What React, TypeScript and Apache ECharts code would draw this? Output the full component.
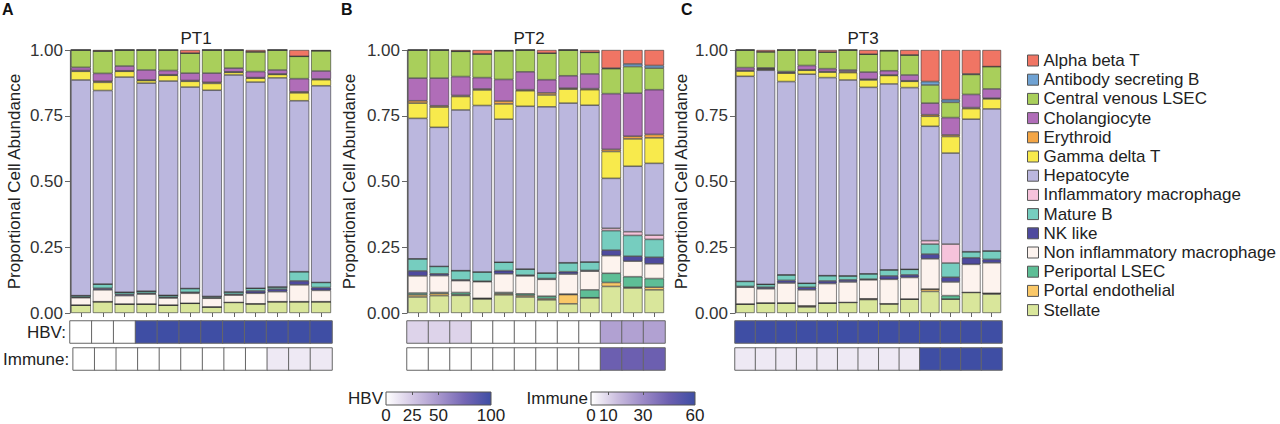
import React, { useEffect, useRef } from "react";
import * as echarts from "echarts";

// ---------- categories ----------
const CELL_TYPES = [
  "Alpha beta T",
  "Antibody secreting B",
  "Central venous LSEC",
  "Cholangiocyte",
  "Erythroid",
  "Gamma delta T",
  "Hepatocyte",
  "Inflammatory macrophage",
  "Mature B",
  "NK like",
  "Non inflammatory macrophage",
  "Periportal LSEC",
  "Portal endothelial",
  "Stellate",
];
const CELL_COLORS = [
  "#F07564", "#6FA2D3", "#A9CF5B", "#B06DB8", "#F3A545", "#F8EA4C", "#BBB7DE",
  "#F6C3DB", "#76CDBF", "#4E4A9E", "#FDF3EE", "#5EBE96", "#FAC868", "#D9E69B",
];
const PANEL_TITLES = ["PT1", "PT2", "PT3"];
const PANEL_LETTERS = ["A", "B", "C"];
const HBV_TICKS = [0, 25, 50, 100];
const IMMUNE_TICKS = [0, 10, 30, 60];

// ---------- PT1 (12 samples) ----------
const PT1_ALPHA_BETA_T = [0, 0.004, 0, 0, 0, 0.012, 0, 0, 0.007, 0, 0.024, 0.003];
const PT1_ANTIBODY_B = [0, 0, 0, 0, 0, 0, 0, 0, 0, 0, 0, 0];
const PT1_CV_LSEC = [0.066, 0.085, 0.061, 0.076, 0.078, 0.076, 0.088, 0.069, 0.075, 0.076, 0.085, 0.077];
const PT1_CHOLANGIOCYTE = [0.012, 0.03, 0.018, 0.038, 0.016, 0.028, 0.035, 0.014, 0.023, 0.015, 0.05, 0.03];
const PT1_ERYTHROID = [0.003, 0.004, 0.002, 0.002, 0.002, 0.003, 0.004, 0.002, 0.002, 0.002, 0.004, 0.003];
const PT1_GAMMA_DELTA_T = [0.033, 0.031, 0.022, 0.01, 0.022, 0.022, 0.026, 0.01, 0.015, 0.013, 0.03, 0.023];
const PT1_HEPATOCYTE = [0.82, 0.736, 0.818, 0.791, 0.815, 0.766, 0.784, 0.825, 0.784, 0.795, 0.65, 0.748];
const PT1_INFL_MAC = [0, 0, 0, 0, 0, 0, 0, 0, 0, 0, 0, 0];
const PT1_MATURE_B = [0.006, 0.016, 0.008, 0.008, 0.007, 0.014, 0.005, 0.009, 0.01, 0.008, 0.035, 0.019];
const PT1_NK_LIKE = [0.002, 0.006, 0.005, 0.003, 0.003, 0.004, 0.002, 0.003, 0.009, 0.01, 0.015, 0.011];
const PT1_NON_INFL_MAC = [0.028, 0.045, 0.032, 0.038, 0.027, 0.038, 0.033, 0.028, 0.04, 0.038, 0.064, 0.043];
const PT1_PERIPORTAL = [0, 0, 0, 0, 0, 0, 0, 0, 0, 0, 0, 0];
const PT1_PORTAL = [0, 0, 0, 0, 0, 0, 0, 0, 0, 0, 0, 0];
const PT1_STELLATE = [0.03, 0.043, 0.034, 0.034, 0.03, 0.037, 0.023, 0.04, 0.035, 0.043, 0.043, 0.043];
const PT1_HBV = [0, 0, 0, 100, 100, 100, 100, 100, 100, 100, 100, 100];
const PT1_IMMUNE = [0, 0, 0, 0, 0, 0, 0, 0, 0, 5, 5, 5];

// ---------- PT2 (12 samples) ----------
const PT2_ALPHA_BETA_T = [0, 0, 0.005, 0.015, 0.003, 0, 0.012, 0, 0.009, 0.069, 0.053, 0.059];
const PT2_ANTIBODY_B = [0, 0, 0, 0, 0, 0, 0, 0, 0, 0.002, 0.01, 0.01];
const PT2_CV_LSEC = [0.107, 0.107, 0.096, 0.09, 0.109, 0.083, 0.101, 0.098, 0.082, 0.095, 0.101, 0.082];
const PT2_CHOLANGIOCYTE = [0.086, 0.105, 0.072, 0.043, 0.082, 0.068, 0.05, 0.047, 0.056, 0.212, 0.164, 0.17];
const PT2_ERYTHROID = [0.009, 0.005, 0.004, 0.004, 0.011, 0.004, 0.008, 0.004, 0.004, 0.008, 0.01, 0.013];
const PT2_GAMMA_DELTA_T = [0.058, 0.077, 0.051, 0.059, 0.058, 0.059, 0.045, 0.053, 0.059, 0.102, 0.104, 0.097];
const PT2_HEPATOCYTE = [0.534, 0.529, 0.611, 0.633, 0.544, 0.619, 0.632, 0.607, 0.596, 0.19, 0.249, 0.273];
const PT2_INFL_MAC = [0, 0, 0, 0, 0, 0, 0, 0, 0, 0.009, 0.014, 0.016];
const PT2_MATURE_B = [0.046, 0.028, 0.035, 0.035, 0.032, 0.023, 0.021, 0.034, 0.032, 0.074, 0.079, 0.068];
const PT2_NK_LIKE = [0.019, 0.007, 0.003, 0.002, 0.012, 0.003, 0.003, 0.009, 0.003, 0.021, 0.019, 0.025];
const PT2_NON_INFL_MAC = [0.065, 0.064, 0.045, 0.063, 0.071, 0.068, 0.064, 0.076, 0.071, 0.067, 0.059, 0.056];
const PT2_PERIPORTAL = [0.007, 0.004, 0.008, 0.002, 0.004, 0.006, 0.009, 0.002, 0.03, 0.035, 0.04, 0.033];
const PT2_PORTAL = [0.008, 0.008, 0.003, 0, 0.005, 0.006, 0.005, 0.035, 0, 0.015, 0.003, 0.01];
const PT2_STELLATE = [0.061, 0.066, 0.067, 0.054, 0.069, 0.061, 0.05, 0.035, 0.058, 0.101, 0.095, 0.088];
const PT2_HBV = [20, 20, 20, 0, 0, 0, 0, 0, 0, 45, 45, 45];
const PT2_IMMUNE = [0, 0, 0, 0, 0, 0, 0, 0, 0, 45, 45, 45];

// ---------- PT3 (13 samples) ----------
const PT3_ALPHA_BETA_T = [0, 0.007, 0, 0, 0.008, 0, 0.016, 0.003, 0.019, 0.12, 0.189, 0.091, 0.063];
const PT3_ANTIBODY_B = [0, 0, 0, 0, 0, 0, 0, 0, 0, 0.013, 0.01, 0.002, 0];
const PT3_CV_LSEC = [0.067, 0.061, 0.082, 0.059, 0.063, 0.076, 0.068, 0.076, 0.076, 0.069, 0.058, 0.076, 0.085];
const PT3_CHOLANGIOCYTE = [0.011, 0.003, 0.004, 0.016, 0.011, 0.006, 0.027, 0.016, 0.022, 0.044, 0.066, 0.05, 0.035];
const PT3_ERYTHROID = [0.002, 0.002, 0.002, 0.002, 0.002, 0.004, 0.003, 0.002, 0.002, 0.006, 0.006, 0.004, 0.003];
const PT3_GAMMA_DELTA_T = [0.02, 0.004, 0.032, 0.015, 0.021, 0.028, 0.028, 0.032, 0.024, 0.038, 0.063, 0.04, 0.038];
const PT3_HEPATOCYTE = [0.78, 0.814, 0.735, 0.795, 0.753, 0.745, 0.709, 0.707, 0.691, 0.435, 0.346, 0.504, 0.54];
const PT3_INFL_MAC = [0, 0, 0, 0, 0, 0, 0, 0, 0, 0.013, 0.072, 0, 0];
const PT3_MATURE_B = [0.019, 0.011, 0.021, 0.015, 0.02, 0.015, 0.02, 0.023, 0.021, 0.038, 0.054, 0.023, 0.032];
const PT3_NK_LIKE = [0.003, 0.006, 0.01, 0.01, 0.01, 0.008, 0.003, 0.013, 0.01, 0.018, 0.018, 0.025, 0.013];
const PT3_NON_INFL_MAC = [0.064, 0.054, 0.076, 0.061, 0.074, 0.078, 0.072, 0.093, 0.082, 0.115, 0.052, 0.107, 0.116];
const PT3_PERIPORTAL = [0, 0, 0, 0, 0, 0, 0, 0, 0, 0, 0.013, 0, 0];
const PT3_PORTAL = [0, 0, 0, 0.004, 0, 0, 0.003, 0, 0, 0.009, 0, 0, 0.003];
const PT3_STELLATE = [0.034, 0.038, 0.038, 0.023, 0.038, 0.04, 0.051, 0.035, 0.053, 0.082, 0.053, 0.078, 0.072];
const PT3_HBV = [100, 100, 100, 100, 100, 100, 100, 100, 100, 100, 100, 100, 100];
const PT3_IMMUNE = [5, 5, 5, 5, 5, 5, 5, 5, 5, 60, 60, 60, 60];

// tables for the library (in CELL_TYPES order)
const PANEL_VALUES: number[][][] = [
  [PT1_ALPHA_BETA_T, PT1_ANTIBODY_B, PT1_CV_LSEC, PT1_CHOLANGIOCYTE, PT1_ERYTHROID, PT1_GAMMA_DELTA_T, PT1_HEPATOCYTE,
    PT1_INFL_MAC, PT1_MATURE_B, PT1_NK_LIKE, PT1_NON_INFL_MAC, PT1_PERIPORTAL, PT1_PORTAL, PT1_STELLATE],
  [PT2_ALPHA_BETA_T, PT2_ANTIBODY_B, PT2_CV_LSEC, PT2_CHOLANGIOCYTE, PT2_ERYTHROID, PT2_GAMMA_DELTA_T, PT2_HEPATOCYTE,
    PT2_INFL_MAC, PT2_MATURE_B, PT2_NK_LIKE, PT2_NON_INFL_MAC, PT2_PERIPORTAL, PT2_PORTAL, PT2_STELLATE],
  [PT3_ALPHA_BETA_T, PT3_ANTIBODY_B, PT3_CV_LSEC, PT3_CHOLANGIOCYTE, PT3_ERYTHROID, PT3_GAMMA_DELTA_T, PT3_HEPATOCYTE,
    PT3_INFL_MAC, PT3_MATURE_B, PT3_NK_LIKE, PT3_NON_INFL_MAC, PT3_PERIPORTAL, PT3_PORTAL, PT3_STELLATE],
];
const PANEL_HBV = [PT1_HBV, PT2_HBV, PT3_HBV];
const PANEL_IMMUNE = [PT1_IMMUNE, PT2_IMMUNE, PT3_IMMUNE];

// ---------- styles / layout ----------
const FONT = "'Liberation Sans', Arial, Helvetica, sans-serif";
const TEXT = "#222";
const AXIS = "#666";
const HBV_RAMP = ["#ffffff", "#d4c8e5", "#a897cd", "#7466b5", "#3f4ea4"];
const IMMUNE_RAMP = ["#ffffff", "#cbbedf", "#9c8ac7", "#6c5fb0", "#3f4ea4"];
const PANEL_BOX = [
  { left: 70, width: 262, title: 196, letter: 2, nameGap: 47 },
  { left: 407, width: 258, title: 529, letter: 341, nameGap: 49 },
  { left: 735, width: 267, title: 863, letter: 681, nameGap: 45 },
];
const BAR_TOP = 50;
const BAR_H = 263;
const HBV_TOP = 321;
const IMM_TOP = 348;
const ROW_H = 22;

function ramp(colors: string[]) {
  return new echarts.graphic.LinearGradient(
    0, 0, 1, 0,
    colors.map((c, i) => ({ offset: i / (colors.length - 1), color: c }))
  );
}

function buildOption() {
  const grid: any[] = [];
  const xAxis: any[] = [];
  const yAxis: any[] = [];
  const series: any[] = [];
  const graphic: any[] = [];

  // bar grids 0..2
  PANEL_BOX.forEach((b, p) => {
    const n = PANEL_VALUES[p][0].length;
    const cats = Array.from({ length: n }, (_, i) => String(i + 1));
    grid.push({ left: b.left, top: BAR_TOP, width: b.width, height: BAR_H });
    xAxis.push({
      type: "category", gridIndex: p, data: cats,
      axisLine: { show: false },
      axisTick: { show: true, alignWithLabel: true, length: 4, lineStyle: { color: AXIS } },
      axisLabel: { show: false },
    });
    yAxis.push({
      type: "value", gridIndex: p, min: 0, max: 1, interval: 0.25,
      name: "Proportional Cell Abundance", nameLocation: "middle", nameGap: b.nameGap,
      nameTextStyle: { fontSize: 17, color: TEXT, fontFamily: FONT },
      axisLine: { show: true, lineStyle: { color: AXIS, width: 1.2 } },
      axisTick: { show: true, length: 5, lineStyle: { color: AXIS } },
      axisLabel: { fontSize: 17, color: "#333", margin: 7, fontFamily: FONT, formatter: (v: number) => v.toFixed(2) },
      splitLine: { show: false },
    });
  });
  // heatmap grids 3..5 (HBV) and 6..8 (Immune)
  [HBV_TOP, IMM_TOP].forEach((top, r) => {
    PANEL_BOX.forEach((b, p) => {
      const gi = 3 + r * 3 + p;
      const n = PANEL_VALUES[p][0].length;
      grid.push({ left: b.left, top, width: b.width, height: ROW_H });
      xAxis.push({
        type: "category", gridIndex: gi, data: Array.from({ length: n }, (_, i) => String(i + 1)),
        axisLine: { show: false }, axisTick: { show: false }, axisLabel: { show: false },
      });
      yAxis.push({
        type: "category", gridIndex: gi, data: [r === 0 ? "HBV:" : "Immune:"],
        axisLine: { show: false }, axisTick: { show: false },
        axisLabel: { show: p === 0, fontSize: 17, color: TEXT, margin: 4, fontFamily: FONT },
      });
    });
  });
  // colorbar grids 9 (HBV) and 10 (Immune)
  const bars = [
    { left: 386, width: 105, max: 100, ticks: HBV_TICKS, name: "HBV", colors: HBV_RAMP },
    { left: 591, width: 104, max: 60, ticks: IMMUNE_TICKS, name: "Immune", colors: IMMUNE_RAMP },
  ];
  bars.forEach((cb, k) => {
    const gi = 9 + k;
    grid.push({
      left: cb.left, top: 392, width: cb.width, height: 14, show: true,
      backgroundColor: ramp(cb.colors), borderColor: "#555", borderWidth: 1,
    });
    xAxis.push({
      type: "value", gridIndex: gi, min: 0, max: cb.max, position: "bottom",
      axisLine: { show: false }, axisTick: { show: false }, splitLine: { show: false },
      axisLabel: { customValues: cb.ticks, fontSize: 17, color: TEXT, margin: 2, fontFamily: FONT, showMinLabel: true, showMaxLabel: true },
    });
    xAxis.push({
      type: "value", gridIndex: gi, min: 0, max: cb.max, position: "top",
      axisLine: { show: false }, splitLine: { show: false }, axisLabel: { show: false },
      axisTick: { show: true, inside: true, length: 3, customValues: cb.ticks.slice(1, -1), lineStyle: { color: "#555" } },
    });
    yAxis.push({
      type: "category", gridIndex: gi, data: [cb.name],
      axisLine: { show: false }, axisTick: { show: false },
      axisLabel: { fontSize: 17, color: TEXT, margin: 3, fontFamily: FONT },
    });
  });

  // stacked bars: bottom of stack = last cell type
  PANEL_BOX.forEach((_, p) => {
    for (let c = CELL_TYPES.length - 1; c >= 0; c--) {
      series.push({
        type: "bar", name: CELL_TYPES[c], xAxisIndex: p, yAxisIndex: p, stack: "s" + p,
        data: PANEL_VALUES[p][c], barCategoryGap: "9%",
        itemStyle: { color: CELL_COLORS[c], borderColor: "#333", borderWidth: 0.6 },
        emphasis: { disabled: true },
      });
    }
  });
  const hbvIdx: number[] = [];
  const immIdx: number[] = [];
  PANEL_BOX.forEach((_, p) => {
    hbvIdx.push(series.length);
    series.push({
      type: "heatmap", name: "HBV " + PANEL_TITLES[p], xAxisIndex: 3 + p, yAxisIndex: 3 + p,
      data: PANEL_HBV[p].map((v, i) => [i, 0, v]),
      itemStyle: { borderColor: "#666", borderWidth: 1 }, emphasis: { disabled: true },
    });
    immIdx.push(series.length);
    series.push({
      type: "heatmap", name: "Immune " + PANEL_TITLES[p], xAxisIndex: 6 + p, yAxisIndex: 6 + p,
      data: PANEL_IMMUNE[p].map((v, i) => [i, 0, v]),
      itemStyle: { borderColor: "#666", borderWidth: 1 }, emphasis: { disabled: true },
    });
  });

  PANEL_BOX.forEach((b, p) => {
    graphic.push({
      type: "text", x: b.title, y: 38,
      style: { text: PANEL_TITLES[p], fontSize: 17, fill: TEXT, fontFamily: FONT,
        textAlign: "center", align: "center", textVerticalAlign: "middle", verticalAlign: "middle" },
    });
    graphic.push({
      type: "text", x: b.letter, y: 9,
      style: { text: PANEL_LETTERS[p], fontSize: 16, fontWeight: "bold", fill: "#111", fontFamily: FONT,
        textAlign: "left", align: "left", textVerticalAlign: "middle", verticalAlign: "middle" },
    });
  });

  return {
    animation: false,
    backgroundColor: "#fff",
    textStyle: { fontFamily: FONT },
    grid, xAxis, yAxis, series, graphic,
    visualMap: [
      { type: "continuous", show: false, min: 0, max: 100, seriesIndex: hbvIdx, inRange: { color: HBV_RAMP } },
      { type: "continuous", show: false, min: 0, max: 60, seriesIndex: immIdx, inRange: { color: IMMUNE_RAMP } },
    ],
    legend: {
      data: CELL_TYPES, orient: "vertical", left: 1022, top: 47, icon: "rect",
      itemWidth: 11, itemHeight: 11, itemGap: 2.2, selectedMode: false,
      itemStyle: { borderColor: "#555", borderWidth: 1 },
      textStyle: { fontSize: 17, color: TEXT, lineHeight: 16, fontFamily: FONT },
    },
  };
}

export default function App() {
  const ref = useRef<HTMLDivElement>(null);
  useEffect(() => {
    if (!ref.current) return;
    const chart = echarts.init(ref.current, undefined, { renderer: "svg" });
    chart.setOption(buildOption() as any);
    return () => chart.dispose();
  }, []);
  return (
    <div
      ref={ref}
      style={{ position: "fixed", left: 0, top: 0, width: 1280, height: 424, background: "#fff" }}
    />
  );
}
